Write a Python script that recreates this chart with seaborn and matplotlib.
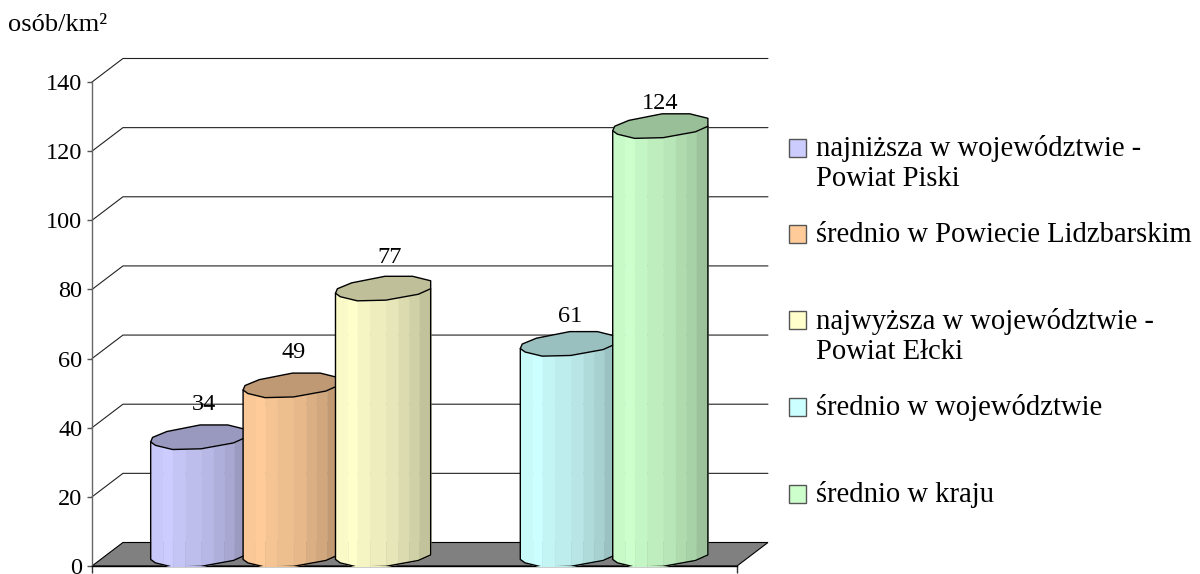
import numpy as np
import pandas as pd
from matplotlib import pyplot as plt
import seaborn as sns

# Data
categories = ['najniższa w województwie -\nPowiat Piski',
              'średnio w Powiecie Lidzbarskim',
              'najwyższa w województwie -\nPowiat Ełcki',
              'średnio w województwie',
              'średnio w kraju']
values = [34, 49, 77, 61, 124]
y_ticks = [0, 20, 40, 60, 80, 100, 120, 140]
colors = ['#CCCCFF', '#FFCC99', '#FFFFCC', '#CCFFFF', '#CCFFCC']

# Empty slot between the two groups of bars
slot_order = categories[:3] + [' '] + categories[3:]

# Look of the 3D box and cylinders
depth_x, depth_y = 0.335, 6.8
rise = 3.2
strip_edges = [0, .13, .23, .36, .53, .66, .77, .88, 1]
strip_shade = [.98, 1, .96, .93, .90, .86, .82, .76]
low_x = [0, .05, .23, .53, .87, 1]
low_y = [-1.3, -2.3, -3.5, -3.3, -1.6, 0]
up_x = [0, .02, .17, .52, .81, 1]
up_y = [-1.3, 0, 1.7, 3.6, 3.6, 2.3]
label_shift = [(6, 44), (3, 44), (7, 42), (2, 39), (0, 34)]

sns.set_theme(style='white')
plt.rcParams['font.family'] = ['Liberation Serif', 'DejaVu Serif']

df = pd.DataFrame({'kategoria': categories, 'wartosc': values})

fig = plt.figure(figsize=(12, 5.74), dpi=100)
ax = fig.add_axes([92 / 1200, 8 / 574, 645 / 1200, 484 / 574])

sns.barplot(data=df, x='kategoria', y='wartosc', hue='kategoria', order=slot_order, hue_order=categories,
            palette=colors, dodge=False, width=1.03, saturation=1, legend=False, ax=ax)

x_lo, x_hi = -1.15, 5.83
ax.set_xlim(x_lo, x_hi)
ax.set_ylim(0, 140)
ax.set_xlabel('')
ax.set_ylabel('')
ax.set_yticks(y_ticks)
ax.set_xticks([x_lo, x_hi], ['', ''])
ax.tick_params(axis='y', left=True, length=3.6, width=1, color='#555555', labelsize=17.5, pad=3.4, labelcolor='black')
ax.tick_params(axis='x', bottom=True, length=5, width=1, color='#333333')
sns.despine(ax=ax)
ax.spines['left'].set_color('#666666')
ax.spines['bottom'].set_color('black')
ax.spines['left'].set_linewidth(1)
ax.spines['bottom'].set_linewidth(1)
ax.patch.set_alpha(0)

# Floor and walls
ax.fill([x_lo, x_lo + depth_x, x_hi + depth_x, x_hi], [0, depth_y, depth_y, 0], facecolor='#808080',
        edgecolor='black', linewidth=0.8, clip_on=False, zorder=1)
for t in y_ticks[1:]:
    ax.plot([x_lo, x_lo + depth_x, x_hi + depth_x], [t, t + depth_y, t + depth_y], color='#222222',
            linewidth=0.8, clip_on=False, zorder=1)

# Legend, every label takes two lines so the squares keep the same pitch
handles = [c[0] for c in ax.containers]
labels = [l if '\n' in l else l + '\n' for l in categories]
leg = ax.legend(handles, labels, loc='upper left', bbox_to_anchor=(789 / 1200, 1 - 135 / 574),
                bbox_transform=fig.transFigure, frameon=False, fontsize=20.6, labelspacing=1.04,
                handlelength=0.6, handleheight=0.6, handletextpad=0.35, borderpad=0, borderaxespad=0)
for text in leg.get_texts():
    text.set_color('black')
for patch in leg.get_patches():
    patch.set_y(patch.get_y() + 11.3)
    patch.set_edgecolor('#555555')
    patch.set_linewidth(1)

# Turn the bars into cylinders
for i, container in enumerate(ax.containers):
    bar = container[0]
    left = bar.get_x()
    width = bar.get_width()
    top = bar.get_height()
    col = np.array(plt.matplotlib.colors.to_rgb(colors[i]))
    z = 3 + i
    bar.set_visible(False)

    for j in range(len(strip_shade)):
        xs = np.unique(np.r_[strip_edges[j], strip_edges[j + 1],
                             [f for f in low_x if strip_edges[j] < f < strip_edges[j + 1]]])
        ax.fill_between(left + xs * width, rise + np.interp(xs, low_x, low_y), top + rise + np.interp(xs, low_x, low_y),
                        color=col * strip_shade[j], linewidth=0.3, zorder=z)

    body_x = left + np.array(low_x) * width
    body_low = rise + np.array(low_y)
    ax.fill(left + np.r_[low_x, up_x[::-1]] * width, top + rise + np.r_[low_y, up_y[::-1]], facecolor=col * 0.75,
            edgecolor='black', linewidth=1, zorder=z + 0.1, joinstyle='round')
    outline_x = np.r_[left, body_x, left + width]
    outline_y = np.r_[top + rise + low_y[0], body_low, top + rise + low_y[-1]]
    ax.plot(outline_x, outline_y, color='black', linewidth=1, zorder=z + 0.1)

    ax.annotate(f'{values[i]}', (left + width / 2, top), xytext=label_shift[i], textcoords='offset pixels',
                ha='center', va='center', fontsize=17.5, color='black', zorder=20, annotation_clip=False)

fig.text(8 / 1200, 1 - 25 / 574, 'osób/km²', fontsize=19, ha='left', va='center', color='black')

plt.savefig('out.png', dpi=100)
plt.close()
